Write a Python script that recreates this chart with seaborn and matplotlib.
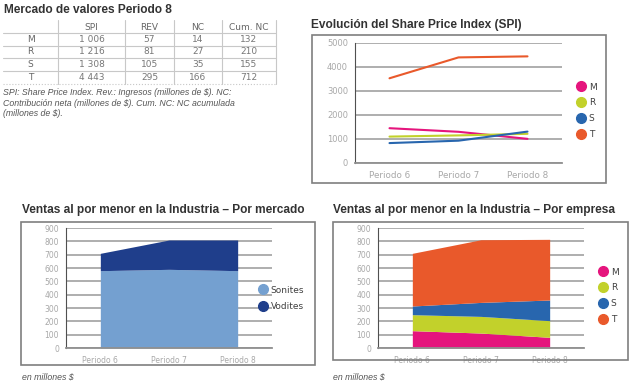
import numpy as np
import pandas as pd
import seaborn as sns
import matplotlib.pyplot as plt
from matplotlib.patches import Rectangle
from matplotlib.lines import Line2D

# datos
table_cols = ["SPI", "REV", "NC", "Cum. NC"]
table_rows = ["M", "R", "S", "T"]
table_vals = [["1 006", "57", "14", "132"],
              ["1 216", "81", "27", "210"],
              ["1 308", "105", "35", "155"],
              ["4 443", "295", "166", "712"]]

periods = ["Periodo 6", "Periodo 7", "Periodo 8"]
companies = ["M", "R", "S", "T"]
spi_M = [1450, 1300, 1006]
spi_R = [1100, 1150, 1216]
spi_S = [830, 930, 1308]
spi_T = [3530, 4400, 4443]

markets = ["Sonites", "Vodites"]
sales_sonites = [580, 590, 580]
sales_vodites = [130, 220, 230]

sales_M = [130, 112, 80]
sales_R = [120, 125, 125]
sales_S = [65, 105, 155]
sales_T = [395, 470, 455]

comp_colors = {"M": "#e5157d", "R": "#c2d12b", "S": "#2866ae", "T": "#e9592b"}
market_colors = {"Sonites": "#74a0d0", "Vodites": "#1f3e8b"}

sns.set_style("white")
plt.rcParams["font.family"] = ["DejaVu Sans"]
ARIAL = ["Liberation Sans", "DejaVu Sans"]

W, H = 642, 386
fig = plt.figure(figsize=(W / 100, H / 100), dpi=100)


def px_axes(x0, y0, x1, y1):
    return fig.add_axes([x0 / W, 1 - y1 / H, (x1 - x0) / W, (y1 - y0) / H])


def frame(x0, y0, x1, y1):
    fig.patches.append(Rectangle((x0 / W, 1 - y1 / H), (x1 - x0) / W, (y1 - y0) / H,
                                 transform=fig.transFigure, fill=False,
                                 edgecolor="#7f7f7f", linewidth=1.2))


def ftext(x, y, s, **kw):
    fig.text(x / W, 1 - y / H, s, **kw)


def title(x, y, s):
    ftext(x, y, s, fontsize=8.6, fontweight="bold", color="#333333", va="center",
          family=ARIAL)


def style_axes(ax, ymax, ystep, xfs, yfs):
    ax.set_xlim(-0.5, 2.5)
    ax.set_ylim(0, ymax)
    ax.set_yticks(np.arange(0, ymax + 1, ystep))
    ax.set_xticks(range(3))
    ax.set_xticklabels(periods)
    ax.set_xticks([-0.5, 0.5, 1.5, 2.5], minor=True)
    ax.tick_params(axis="x", which="major", length=0, pad=6, labelsize=xfs, labelcolor="#a8a8a8")
    ax.tick_params(axis="x", which="minor", length=3, color="#606060", direction="out")
    ax.tick_params(axis="y", which="major", length=3, color="#606060", labelsize=yfs,
                   labelcolor="#a8a8a8", pad=2)
    ax.yaxis.grid(True, color="#a8a8a8", linewidth=1.3)
    ax.set_axisbelow(True)
    for s in ["top", "right"]:
        ax.spines[s].set_visible(False)
    ax.spines["left"].set_color("#505050")
    ax.spines["bottom"].set_color("#909090")
    ax.spines["bottom"].set_linewidth(1.3)
    ax.set_xlabel("")
    ax.set_ylabel("")


def dot_legend(labels, colors, x, y, dy, fs=6.5):
    handles = [Line2D([], [], marker="o", linestyle="", markersize=7,
                      markerfacecolor=colors[l], markeredgecolor=colors[l]) for l in labels]
    fig.legend(handles, labels, loc="upper left", bbox_to_anchor=(x / W, 1 - y / H),
               frameon=False, fontsize=fs, handletextpad=0.35, labelspacing=dy,
               handlelength=1.0, borderpad=0, labelcolor="#404040")


# --- tabla ---
title(4, 10, "Mercado de valores Periodo 8")
col_edges = [3, 58, 125, 174, 222, 276]
row_edges = [20, 33, 46, 58, 71, 84]
line_c = "#c8c8c8"
for i, ry in enumerate(row_edges[1:]):
    fig.add_artist(Line2D([3 / W, 276 / W], [1 - ry / H, 1 - ry / H], color=line_c,
                          linewidth=0.8, linestyle=":" if i == 4 else "-"))
for cx in col_edges[1:]:
    fig.add_artist(Line2D([cx / W, cx / W], [1 - 20 / H, 1 - 84 / H], color=line_c, linewidth=0.8))
for j, c in enumerate(table_cols):
    ftext((col_edges[j + 1] + col_edges[j + 2]) / 2, 27, c, fontsize=6.5,
          ha="center", va="center", color="#666666")
for i, r in enumerate(table_rows):
    yc = (row_edges[i + 1] + row_edges[i + 2]) / 2
    ftext((col_edges[0] + col_edges[1]) / 2, yc, r, fontsize=6.5, ha="center",
          va="center", color="#666666")
    for j, v in enumerate(table_vals[i]):
        ftext((col_edges[j + 1] + col_edges[j + 2]) / 2, yc, v, fontsize=6.5,
              ha="center", va="center", color="#777777")
ftext(3, 103, "SPI: Share Price Index. Rev.: Ingresos (millones de $). NC:\n"
      "Contribución neta (millones de $). Cum. NC: NC acumulada\n(millones de $).",
      fontsize=6.3, style="italic", color="#555555", va="center", linespacing=1.2,
      family=ARIAL)

# --- SPI ---
title(311, 25, "Evolución del Share Price Index (SPI)")
frame(312, 35, 606, 183)
ax1 = px_axes(355, 43, 562, 163)
spi = pd.DataFrame({"periodo": periods * 4,
                    "empresa": [c for c in companies for _ in periods],
                    "SPI": spi_M + spi_R + spi_S + spi_T})
spi["x"] = spi["periodo"].map({p: i for i, p in enumerate(periods)})
sns.lineplot(data=spi, x="x", y="SPI", hue="empresa", palette=comp_colors,
             linewidth=1.5, legend=False, ax=ax1)
style_axes(ax1, 5000, 1000, 6.3, 6)
dot_legend(companies, comp_colors, 572, 78, 0.75)

# --- ventas por mercado ---
title(22, 210, "Ventas al por menor en la Industria – Por mercado")
frame(21, 222, 315, 365)
ax2 = px_axes(66, 228, 272, 348)
ax2.stackplot(range(3), sales_sonites, sales_vodites,
              colors=[market_colors[m] for m in markets], linewidth=0)
style_axes(ax2, 900, 100, 5.5, 5.5)
dot_legend(markets, market_colors, 254, 281, 0.8)

# --- ventas por empresa ---
title(333, 210, "Ventas al por menor en la Industria – Por empresa")
frame(333, 222, 628, 360)
ax3 = px_axes(378, 228, 584, 348)
ax3.stackplot(range(3), sales_M, sales_R, sales_S, sales_T,
              colors=[comp_colors[c] for c in companies], linewidth=0)
style_axes(ax3, 900, 100, 5.5, 5.5)
dot_legend(companies, comp_colors, 594, 263, 0.75)

ftext(22, 377, "en millones $", fontsize=6.3, style="italic", color="#555555", va="center",
      family=ARIAL)
ftext(333, 377, "en millones $", fontsize=6.3, style="italic", color="#555555", va="center",
      family=ARIAL)

fig.savefig("out.png", dpi=100)
